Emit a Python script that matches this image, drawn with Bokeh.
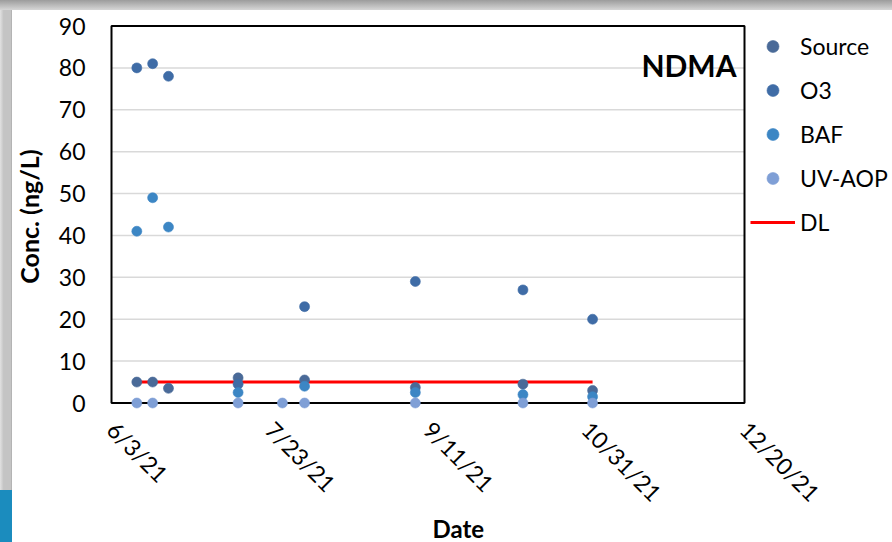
import datetime as dt

from bokeh.embed import file_html
from bokeh.models import (BoxAnnotation, CustomJSTickFormatter, FixedTicker, Label,
                          Legend, LegendItem, Range1d, Title)
from bokeh.plotting import figure
from bokeh.resources import INLINE

# NDMA concentrations (ng/L) by sampling date and treatment stage
source_dates = ["2021-06-11", "2021-06-16", "2021-06-21", "2021-07-13", "2021-08-03",
                "2021-09-07", "2021-10-11", "2021-11-02"]
source_vals = [5, 5, 3.5, 6, 5.5, 3.7, 4.5, 3]

o3_dates = ["2021-06-11", "2021-06-16", "2021-06-21", "2021-07-13", "2021-08-03",
            "2021-09-07", "2021-10-11", "2021-11-02"]
o3_vals = [80, 81, 78, 4.5, 23, 29, 27, 20]

baf_dates = ["2021-06-11", "2021-06-16", "2021-06-21", "2021-07-13", "2021-08-03",
             "2021-09-07", "2021-10-11", "2021-11-02"]
baf_vals = [41, 49, 42, 2.5, 4, 2.5, 2, 1.5]

uv_dates = ["2021-06-11", "2021-06-16", "2021-07-13", "2021-07-27", "2021-08-03",
            "2021-09-07", "2021-10-11", "2021-11-02"]
uv_vals = [0, 0, 0, 0, 0, 0, 0, 0]

# detection limit
dl_dates = ["2021-06-11", "2021-11-02"]
dl_vals = [5, 5]

tick_dates = ["2021-06-03", "2021-07-23", "2021-09-11", "2021-10-31", "2021-12-20"]
y_ticks = [0, 10, 20, 30, 40, 50, 60, 70, 80, 90]

FONT = "Lato"

# layout (pixels): the plot box sits inside a wider frame so that the legend,
# which lives to the right of the box, is drawn inside the frame as well
W, H = 892, 542
BOX_L, BOX_R, BOX_T, BOX_B = 111, 744, 25.5, 402.5
FRAME_L, FRAME_T, FRAME_B = 109, 23, 409
LEG_ITEM_H, LEG_SPACING = 30, 14


def to_dt(days):
    return [dt.datetime.strptime(d, "%Y-%m-%d") for d in days]


def to_ms(days):
    epoch = dt.datetime(1970, 1, 1)
    return [(d - epoch).total_seconds() * 1000 for d in to_dt(days)]


ticks_ms = to_ms(tick_dates)
x0, x1 = ticks_ms[0], ticks_ms[-1]
y0, y1 = y_ticks[0], y_ticks[-1]
ms_per_px = (x1 - x0) / (BOX_R - BOX_L)
val_per_px = (y1 - y0) / (BOX_B - BOX_T)

x_range = Range1d(x0 - (BOX_L - FRAME_L) * ms_per_px, x0 + (W - BOX_L) * ms_per_px)
y_range = Range1d(y0 - (FRAME_B - BOX_B) * val_per_px, y1 + (BOX_T - FRAME_T) * val_per_px)

p = figure(width=W, height=H, x_axis_type="datetime", x_range=x_range, y_range=y_range,
           output_backend="svg", toolbar_location=None,
           min_border_left=FRAME_L, min_border_right=0, min_border_top=FRAME_T,
           min_border_bottom=H - FRAME_B)
p.background_fill_color = "white"
p.border_fill_color = None
p.outline_line_color = None

# slide frame behind the chart: grey top and left edges, blue corner tab
p.styles = {
    "background": (
        "linear-gradient(#1b8cbe,#1b8cbe) 0 490px / 12px 52px no-repeat, "
        "linear-gradient(to bottom,#9c9c9c,#d6d6d6) 0 0 / 100% 10px no-repeat, "
        "linear-gradient(to right,#e2e2e2,#c4c4c4 30%,#c4c4c4 90%,#a8a8a8) "
        "0 0 / 12px 100% no-repeat, #ffffff"
    )
}

# horizontal gridlines across the plot box only, then the black box outline
p.xgrid.visible = False
p.ygrid.visible = False
p.segment(x0=[x0] * len(y_ticks), x1=[x1] * len(y_ticks), y0=y_ticks, y1=y_ticks,
          line_color="#d9d9d9", line_width=1.5, level="underlay")
p.add_layout(BoxAnnotation(left=x0, right=x1, bottom=y0, top=y1,
                           fill_alpha=0, fill_color=None,
                           line_color="black", line_alpha=1, line_width=2,
                           level="underlay"))

p.yaxis.ticker = FixedTicker(ticks=y_ticks)
p.xaxis.ticker = FixedTicker(ticks=ticks_ms)
p.xaxis.formatter = CustomJSTickFormatter(code="""
    const d = new Date(tick);
    return (d.getUTCMonth() + 1) + "/" + d.getUTCDate() + "/" +
           String(d.getUTCFullYear()).slice(2);
""")
p.xaxis.major_label_orientation = -0.785398

for ax in (p.xaxis[0], p.yaxis[0]):
    ax.axis_line_color = None
    ax.major_tick_line_color = None
    ax.minor_tick_line_color = None
    ax.major_tick_out = 0
    ax.major_tick_in = 0
    ax.minor_tick_out = 0
    ax.major_label_text_font = FONT
    ax.major_label_text_font_size = "23px"
    ax.major_label_text_color = "black"

p.yaxis.major_label_standoff = 24
p.xaxis.major_label_standoff = 16
p.yaxis.axis_label = "Conc. (ng/L)"
p.yaxis.axis_label_text_font = FONT
p.yaxis.axis_label_text_font_style = "bold"
p.yaxis.axis_label_text_font_size = "25px"
p.yaxis.axis_label_text_color = "black"
p.yaxis.axis_label_standoff = 12

dl = p.line(to_dt(dl_dates), dl_vals, line_color="#ff0000", line_width=3)

series = [
    ("Source", source_dates, source_vals, "#4a6a98"),
    ("O3", o3_dates, o3_vals, "#3f6ca6"),
    ("BAF", baf_dates, baf_vals, "#3c86c4"),
    ("UV-AOP", uv_dates, uv_vals, "#7f9fd6"),
]
items = []
for name, dates, vals, color in series:
    r = p.scatter(to_dt(dates), vals, size=10, fill_color=color, line_color=color,
                  line_alpha=0.6)
    items.append(LegendItem(label=name, renderers=[r]))
items.append(LegendItem(label="DL", renderers=[dl]))

# legend location is its lower-left corner, measured from the frame's lower-left
leg_height = len(items) * LEG_ITEM_H + (len(items) - 1) * LEG_SPACING
legend = Legend(items=items, location=(750 - FRAME_L, FRAME_B - 31 - leg_height),
                glyph_width=45, glyph_height=LEG_ITEM_H, label_height=LEG_ITEM_H,
                spacing=LEG_SPACING, label_standoff=5, padding=0, margin=0,
                border_line_color=None, background_fill_alpha=0,
                label_text_font=FONT, label_text_font_size="23px",
                label_text_color="black")
p.add_layout(legend)

p.add_layout(Label(x=736 - FRAME_L, y=FRAME_B - 64, x_units="screen", y_units="screen",
                   text="NDMA", text_align="right", text_baseline="alphabetic",
                   text_font=FONT, text_font_style="bold",
                   text_font_size="30px", text_color="black"))

p.add_layout(Title(text="Date", align="left", offset=432 - FRAME_L, standoff=-16,
                   text_font=FONT, text_font_style="bold", text_font_size="24px",
                   text_color="black"), "below")

open("out.html", "w").write(file_html(p, INLINE))
